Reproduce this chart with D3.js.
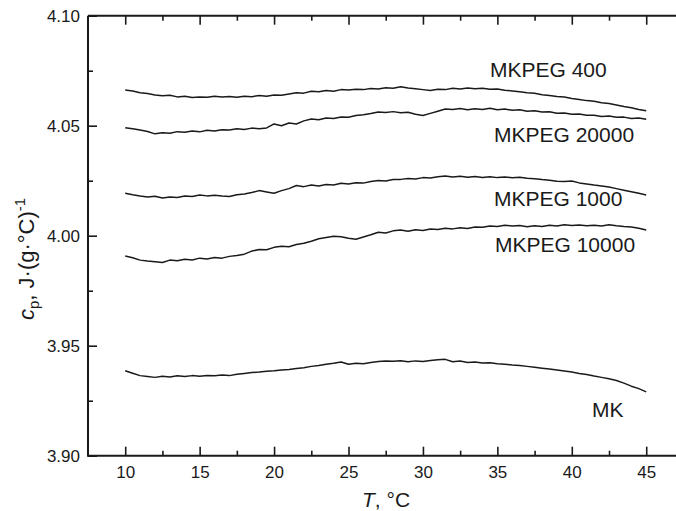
<!DOCTYPE html>
<html><head><meta charset="utf-8">
<script src="https://cdn.jsdelivr.net/npm/d3@7"></script>
<style>
html,body{margin:0;padding:0;background:#fff;}
svg{display:block;font-family:"Liberation Sans",Arial,Helvetica,sans-serif;}
</style></head>
<body>
<svg id="chart" width="676" height="511"></svg>
<script>
// Temperature grid (°C) for every recorded trace
const temps = d3.range(10, 45.01, 0.5);

const seriesNames = ["MKPEG 400", "MKPEG 20000", "MKPEG 1000", "MKPEG 10000", "MK"];

const cpMKPEG400 = [4.0662,4.0658,4.0650,4.0646,4.0640,4.0636,4.0638,4.0631,4.0634,4.0628,4.0631,4.0629,4.0634,4.0630,4.0633,4.0629,4.0634,4.0632,4.0637,4.0634,4.0640,4.0638,4.0644,4.0650,4.0648,4.0657,4.0654,4.0660,4.0657,4.0664,4.0662,4.0666,4.0664,4.0669,4.0667,4.0672,4.0670,4.0677,4.0671,4.0668,4.0664,4.0660,4.0666,4.0664,4.0670,4.0667,4.0671,4.0668,4.0670,4.0666,4.0667,4.0661,4.0658,4.0654,4.0650,4.0647,4.0641,4.0637,4.0633,4.0630,4.0624,4.0619,4.0614,4.0611,4.0604,4.0601,4.0594,4.0587,4.0582,4.0574,4.0568];

const cpMKPEG20000 = [4.0491,4.0486,4.0480,4.0474,4.0463,4.0468,4.0466,4.0473,4.0470,4.0476,4.0472,4.0479,4.0476,4.0482,4.0480,4.0486,4.0483,4.0489,4.0486,4.0490,4.0508,4.0500,4.0512,4.0508,4.0522,4.0530,4.0527,4.0535,4.0533,4.0540,4.0538,4.0546,4.0550,4.0555,4.0562,4.0560,4.0564,4.0559,4.0561,4.0552,4.0546,4.0556,4.0566,4.0576,4.0574,4.0578,4.0573,4.0577,4.0574,4.0579,4.0573,4.0576,4.0570,4.0572,4.0566,4.0568,4.0562,4.0563,4.0557,4.0558,4.0552,4.0553,4.0547,4.0548,4.0542,4.0544,4.0538,4.0539,4.0533,4.0535,4.0529];

const cpMKPEG1000 = [4.0193,4.0186,4.0180,4.0176,4.0179,4.0171,4.0176,4.0174,4.0180,4.0178,4.0185,4.0181,4.0184,4.0180,4.0178,4.0186,4.0190,4.0196,4.0205,4.0199,4.0193,4.0205,4.0214,4.0228,4.0223,4.0230,4.0226,4.0233,4.0230,4.0238,4.0235,4.0241,4.0239,4.0246,4.0251,4.0249,4.0255,4.0256,4.0260,4.0258,4.0264,4.0262,4.0268,4.0271,4.0267,4.0270,4.0266,4.0269,4.0265,4.0268,4.0264,4.0267,4.0263,4.0266,4.0261,4.0259,4.0255,4.0252,4.0247,4.0246,4.0249,4.0240,4.0235,4.0230,4.0226,4.0221,4.0214,4.0207,4.0200,4.0193,4.0185];

const cpMKPEG10000 = [3.9908,3.9900,3.9889,3.9885,3.9882,3.9878,3.9889,3.9886,3.9893,3.9890,3.9898,3.9894,3.9901,3.9898,3.9906,3.9910,3.9916,3.9930,3.9937,3.9936,3.9947,3.9952,3.9950,3.9960,3.9966,3.9975,3.9986,3.9992,3.9998,3.9995,3.9988,3.9984,3.9994,4.0004,4.0016,4.0012,4.0022,4.0026,4.0020,4.0027,4.0024,4.0030,4.0028,4.0034,4.0031,4.0036,4.0033,4.0040,4.0038,4.0044,4.0042,4.0048,4.0044,4.0046,4.0041,4.0045,4.0042,4.0047,4.0044,4.0050,4.0046,4.0049,4.0045,4.0048,4.0044,4.0050,4.0045,4.0042,4.0040,4.0034,4.0026];

const cpMK = [3.9386,3.9375,3.9364,3.9360,3.9356,3.9361,3.9358,3.9363,3.9360,3.9364,3.9361,3.9365,3.9363,3.9367,3.9364,3.9370,3.9374,3.9378,3.9380,3.9384,3.9386,3.9390,3.9392,3.9396,3.9400,3.9406,3.9410,3.9416,3.9420,3.9426,3.9416,3.9420,3.9418,3.9424,3.9428,3.9430,3.9429,3.9432,3.9427,3.9431,3.9428,3.9433,3.9436,3.9438,3.9427,3.9430,3.9424,3.9426,3.9421,3.9422,3.9418,3.9416,3.9412,3.9410,3.9406,3.9402,3.9398,3.9394,3.9390,3.9385,3.9380,3.9374,3.9369,3.9362,3.9356,3.9350,3.9342,3.9330,3.9316,3.9305,3.9290];

const xMajorTicks = [10, 15, 20, 25, 30, 35, 40, 45];
const xMinorTicks = [12.5, 17.5, 22.5, 27.5, 32.5, 37.5, 42.5];
const yMajorTicks = [3.90, 3.95, 4.00, 4.05, 4.10];
const yMinorTicks = [3.925, 3.975, 4.025, 4.075];

const allSeries = [cpMKPEG400, cpMKPEG20000, cpMKPEG1000, cpMKPEG10000, cpMK];

const svg = d3.select("#chart");
const plotLeft = 88, plotTop = 15.7, plotBottom = 455.7;
const x = d3.scaleLinear().domain([7.5, 47.5]).range([plotLeft, plotLeft + 40 * 14.886]);
const y = d3.scaleLinear().domain([3.90, 4.10]).range([plotBottom, plotTop]);

const ink = "#1a1a1a";

function styleAxis(g) {
  g.select(".domain").remove();
  g.selectAll("line").attr("stroke", ink).attr("stroke-width", 1.6);
  g.selectAll("text").attr("fill", ink).attr("font-size", 17);
}

// bottom axis
svg.append("g").attr("transform", `translate(0,${plotBottom})`)
  .call(d3.axisBottom(x).tickValues(xMajorTicks).tickSize(-9).tickPadding(10).tickFormat(d3.format("d")))
  .call(styleAxis);
svg.append("g").attr("transform", `translate(0,${plotBottom})`)
  .call(d3.axisBottom(x).tickValues(xMinorTicks).tickSize(-5).tickFormat(""))
  .call(styleAxis);
// top axis
svg.append("g").attr("transform", `translate(0,${plotTop})`)
  .call(d3.axisTop(x).tickValues(xMajorTicks).tickSize(-9).tickFormat(""))
  .call(styleAxis);
svg.append("g").attr("transform", `translate(0,${plotTop})`)
  .call(d3.axisTop(x).tickValues(xMinorTicks).tickSize(-5).tickFormat(""))
  .call(styleAxis);
// left axis
svg.append("g").attr("transform", `translate(${plotLeft},0)`)
  .call(d3.axisLeft(y).tickValues(yMajorTicks).tickSize(-9).tickPadding(8).tickFormat(d3.format(".2f")))
  .call(styleAxis);
svg.append("g").attr("transform", `translate(${plotLeft},0)`)
  .call(d3.axisLeft(y).tickValues(yMinorTicks).tickSize(-5).tickFormat(""))
  .call(styleAxis);

// frame
svg.append("path")
  .attr("d", `M${plotLeft},${plotTop}H676M${plotLeft},${plotTop}V${plotBottom}H676`)
  .attr("fill", "none").attr("stroke", ink).attr("stroke-width", 2);

// traces
const line = d3.line().x((d, i) => x(temps[i])).y(d => y(d));
svg.append("g").selectAll("path").data(allSeries).join("path")
  .attr("d", line).attr("fill", "none").attr("stroke", ink)
  .attr("stroke-width", 1.5).attr("stroke-linejoin", "round");

// series labels
const labelPos = [[490, 77], [494, 141.5], [494, 206], [495, 252], [592, 417]];
svg.append("g").selectAll("text").data(seriesNames).join("text")
  .attr("x", (d, i) => labelPos[i][0]).attr("y", (d, i) => labelPos[i][1])
  .attr("font-size", 21).attr("fill", ink).text(d => d);

// x title
const xt = svg.append("text").attr("x", 362).attr("y", 506.5).attr("font-size", 21).attr("fill", ink);
xt.append("tspan").attr("font-style", "italic").text("T");
xt.append("tspan").text(", °C");

// y title
const yt = svg.append("text").attr("transform", "translate(34,320) rotate(-90)")
  .attr("font-size", 22).attr("fill", ink);
yt.append("tspan").attr("font-style", "italic").text("c");
yt.append("tspan").attr("font-size", 15).attr("dy", 5).text("p");
yt.append("tspan").attr("dy", -5).text(", J·(g·°C)");
yt.append("tspan").attr("font-size", 15).attr("dy", -9).text("-1");
</script>
</body></html>
